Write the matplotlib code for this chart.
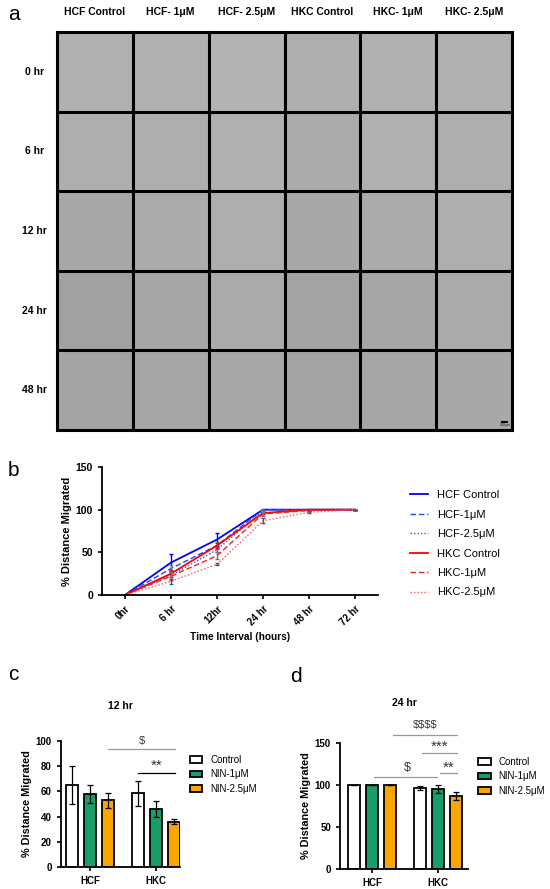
import numpy as np
import matplotlib
matplotlib.use("Agg")
import matplotlib.pyplot as plt

plt.rcParams['font.family'] = ['Liberation Sans', 'DejaVu Sans']

W, H = 550, 889

# ---- panel a: image grid labels
col_labels = ["HCF Control", "HCF- 1\u03bcM", "HCF- 2.5\u03bcM", "HKC Control", "HKC- 1\u03bcM", "HKC- 2.5\u03bcM"]
row_labels = ["0 hr", "6 hr", "12 hr", "24 hr", "48 hr"]
# mean grey level of each micrograph (estimated)
cell_grey = np.array([
    [0.69, 0.69, 0.70, 0.68, 0.69, 0.69],
    [0.68, 0.68, 0.69, 0.67, 0.69, 0.68],
    [0.66, 0.67, 0.68, 0.66, 0.67, 0.68],
    [0.63, 0.65, 0.67, 0.64, 0.65, 0.67],
    [0.64, 0.65, 0.66, 0.64, 0.65, 0.66],
])

# ---- panel b: migration over time
times = ["0hr", "6 hr", "12hr", "24 hr", "48 hr", "72 hr"]
series_names = ["HCF Control", "HCF-1\u03bcM", "HCF-2.5\u03bcM", "HKC Control", "HKC-1\u03bcM", "HKC-2.5\u03bcM"]
hcf_ctrl = [0, 38, 65, 100, 100, 100]
hcf_1 = [0, 31, 58, 100, 100, 100]
hcf_25 = [0, 23, 53, 99, 100, 100]
hkc_ctrl = [0, 25, 58, 96, 100, 100]
hkc_1 = [0, 22, 46, 95, 99, 100]
hkc_25 = [0, 16, 36, 87, 97, 100]
hcf_ctrl_err = [0, 10, 8, 0, 0, 0]
hcf_1_err = [0, 4, 4, 0, 0, 0]
hcf_25_err = [0, 5, 3, 0, 0, 0]
hkc_ctrl_err = [0, 4, 3, 1, 0, 0]
hkc_1_err = [0, 5, 4, 2, 0, 0]
hkc_25_err = [0, 3, 1, 3, 1, 0]

# ---- panels c, d: bars
groups = ["HCF", "HKC"]
treatments = ["Control", "NIN-1\u03bcM", "NIN-2.5\u03bcM"]
bar12 = [[65, 58, 53], [58.5, 46, 36]]
err12 = [[15, 7, 6], [10, 6.5, 2]]
bar24 = [[100, 100, 100], [96.5, 95, 87]]
err24 = [[0, 0, 0], [2, 5, 5]]

fig = plt.figure(figsize=(W / 100, H / 100), dpi=100)


def ax_px(x0, y0, x1, y1):
    return fig.add_axes([x0 / W, 1 - y1 / H, (x1 - x0) / W, (y1 - y0) / H])


def letter(x, y, s):
    fig.text(x / W, 1 - y / H, s, fontsize=15, ha="left", va="center")


# ================= a
axa = ax_px(57, 32, 512, 430)
axa.imshow(cell_grey, cmap="gray", vmin=0, vmax=1, extent=(0, 6, 5, 0), aspect="auto",
           interpolation="nearest")
for k in range(7):
    axa.axvline(k, color="black", lw=2.2, clip_on=False)
for k in range(6):
    axa.axhline(k, color="black", lw=2.2, clip_on=False)
axa.set_xlim(0, 6)
axa.set_ylim(5, 0)
axa.axis("off")
for i, lab in enumerate(col_labels):
    axa.text(i + 0.5, -0.25, lab, ha="center", va="center", fontsize=7.5, fontweight="bold",
             family=["Liberation Sans Narrow", "Liberation Sans", "DejaVu Sans"])
for j, lab in enumerate(row_labels):
    axa.text(-0.3, j + 0.5, lab, ha="center", va="center", fontsize=7.5, fontweight="bold")
axa.plot([5.87, 5.93], [4.9, 4.9], color="black", lw=1.5)
axa.text(5.9, 4.94, "200 \u03bcm", ha="center", va="center", fontsize=2)
letter(8, 14, "a")

# ================= b
axb = ax_px(102, 467, 378, 595)
xs = np.arange(len(times))
styles = [
    (hcf_ctrl, hcf_ctrl_err, "#0000ff", "-", 1.3),
    (hcf_1, hcf_1_err, "#2244ee", (0, (4, 2)), 1.0),
    (hcf_25, hcf_25_err, "#3355ff", (0, (1, 1.5)), 1.0),
    (hkc_ctrl, hkc_ctrl_err, "#ff0000", "-", 1.3),
    (hkc_1, hkc_1_err, "#ee2222", (0, (4, 2)), 1.0),
    (hkc_25, hkc_25_err, "#ff5555", (0, (1, 1.5)), 1.0),
]
err_cols = ["#0000ff", "#33aa55", "#cc44cc", "#ff0000", "#777777", "#555555"]
for (vals, err, col, ls, lw), name, ec in zip(styles, series_names, err_cols):
    axb.plot(xs, vals, color=col, ls=ls, lw=lw, label=name)
    axb.errorbar(xs, vals, yerr=err, fmt="none", ecolor=ec, elinewidth=1, capsize=1.5)
axb.set_xlim(-0.5, 5.5)
axb.set_ylim(0, 150)
axb.set_yticks([0, 50, 100, 150])
axb.set_xticks(xs)
axb.set_xticklabels(times, rotation=45, ha="right", rotation_mode="anchor")
for s in ["top", "right"]:
    axb.spines[s].set_visible(False)
for s in ["left", "bottom"]:
    axb.spines[s].set_linewidth(1.3)
axb.tick_params(width=1.2, length=3, labelsize=7.5)
axb.tick_params(axis="x", labelsize=7)
for t in axb.get_xticklabels() + axb.get_yticklabels():
    t.set_fontweight("bold")
axb.set_ylabel("% Distance Migrated", fontsize=8, fontweight="bold", labelpad=3)
axb.set_xlabel("Time Interval (hours)", fontsize=7.3, fontweight="bold", labelpad=3)
axb.legend(loc="center left", bbox_to_anchor=(1.1, 0.40), frameon=False, fontsize=8,
           handlelength=1.6, labelspacing=0.85, borderaxespad=0)
letter(8, 470, "b")

# ================= c, d
bar_cols = ["white", "#179e6b", "#f9a603"]
offs = np.array([-0.27, 0, 0.27])


def bar_panel(ax, vals, errs, ymax, yticks):
    for g in range(len(groups)):
        for t in range(len(treatments)):
            ax.bar(g + offs[t], vals[g][t], width=0.18, color=bar_cols[t], edgecolor="black",
                   lw=1.3, yerr=errs[g][t], error_kw=dict(ecolor="black", elinewidth=0.9,
                                                          capsize=2.5, capthick=0.9),
                   label=treatments[t] if g == 0 else None)
    ax.set_ylim(0, ymax)
    ax.set_yticks(yticks)
    ax.set_xticks(range(len(groups)))
    ax.set_xticklabels(groups)
    for s in ["top", "right"]:
        ax.spines[s].set_visible(False)
    for s in ["left", "bottom"]:
        ax.spines[s].set_linewidth(1.3)
    ax.tick_params(width=1.2, length=3, labelsize=7)
    for t in ax.get_xticklabels() + ax.get_yticklabels():
        t.set_fontweight("bold")
    ax.set_ylabel("% Distance Migrated", fontsize=7.8, fontweight="bold", labelpad=3)
    ax.legend(loc="upper left", bbox_to_anchor=(1.05, 0.92), frameon=False, fontsize=7,
              handlelength=1.3, handleheight=0.7, labelspacing=0.45, borderaxespad=0)


def sig(ax, x0, x1, y, ty, txt, col="#999999", xt=None, size=8):
    ax.plot([x0, x1], [y, y], color=col, lw=0.9, clip_on=False)
    ax.text((x0 + x1) / 2 if xt is None else xt, ty, txt, ha="center", va="center",
            fontsize=size, color="#333333", clip_on=False, parse_math=False)


axc = ax_px(61, 741, 180, 867)
bar_panel(axc, bar12, err12, 100, [0, 20, 40, 60, 80, 100])
axc.set_xlim(-0.44, 1.36)
axc.set_title("12 hr", fontsize=7.5, fontweight="bold", pad=23)
sig(axc, 0.27, 1.29, 94, 100, "$")
sig(axc, 0.73, 1.29, 75, 80, "**", col="black", size=11)
letter(8, 675, "c")

axd = ax_px(340, 743, 468, 869)
bar_panel(axd, bar24, err24, 150, [0, 50, 100, 150])
axd.set_xlim(-0.48, 1.45)
axd.set_title("24 hr", fontsize=7.5, fontweight="bold", pad=27)
sig(axd, 0.32, 1.29, 160, 171, "$$$$")
sig(axd, 0.76, 1.29, 138, 145, "***", size=11)
sig(axd, 1.03, 1.29, 114, 121, "**", size=11)
sig(axd, 0.03, 0.98, 109, 120, "$", xt=0.53, size=9)
letter(290, 677, "d")

fig.savefig("out.png", dpi=100)
